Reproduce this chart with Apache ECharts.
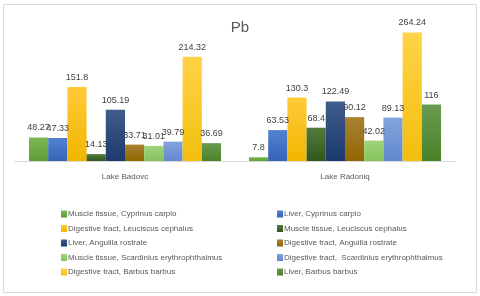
<!DOCTYPE html>
<html><head><meta charset="utf-8">
<script src="https://cdn.jsdelivr.net/npm/echarts@6/dist/echarts.min.js"></script>
<style>html,body{margin:0;padding:0;background:#fff}#c{width:480px;height:296px}</style>
</head><body><div id="c"></div>
<script>
const categories = ['Lake Badovc', 'Lake Radoniq'];
const seriesNames = [
  'Muscle tissue, Cyprinus carpio',
  'Liver, Cyprinus carpio',
  'Digestive tract, Leuciscus cephalus',
  'Muscle tissue, Leuciscus cephalus',
  'Liver, Anguilla rostrate',
  'Digestive tract, Anguilla rostrate',
  'Muscle tissue, Scardinius erythrophthalmus',
  'Digestive tract,  Scardinius erythrophthalmus',
  'Digestive tract, Barbus barbus',
  'Liver, Barbus barbus'
];
const muscleCyprinus = [48.27, 7.8];
const liverCyprinus = [47.33, 63.53];
const digestiveLeuciscus = [151.8, 130.3];
const muscleLeuciscus = [14.13, 68.4];
const liverAnguilla = [105.19, 122.49];
const digestiveAnguilla = [33.71, 90.12];
const muscleScardinius = [31.01, 42.02];
const digestiveScardinius = [39.79, 89.13];
const digestiveBarbus = [214.32, 264.24];
const liverBarbus = [36.69, 116];
const seriesValues = [muscleCyprinus, liverCyprinus, digestiveLeuciscus, muscleLeuciscus,
  liverAnguilla, digestiveAnguilla, muscleScardinius, digestiveScardinius, digestiveBarbus, liverBarbus];

const palette = [
  ['#7DB857', '#5E9E35', '#70AD47'],
  ['#5282CF', '#3564BA', '#4472C4'],
  ['#FFCA3A', '#F2B600', '#FFC000'],
  ['#567B3F', '#30571B', '#43682B'],
  ['#405C8C', '#1D3A6E', '#264478'],
  ['#AA8233', '#906700', '#9E7000'],
  ['#9FD47C', '#85C25C', '#8FCC68'],
  ['#82A4DD', '#6288CE', '#6F94D6'],
  ['#FFD347', '#F2BF0E', '#FFC818'],
  ['#6A9C50', '#488228', '#548E35']
];
const font = "'Liberation Sans',Arial,sans-serif";

const series = seriesNames.map((name, i) => ({
  name: name,
  type: 'bar',
  data: seriesValues[i],
  barGap: '0%',
  barCategoryGap: '12.7%',
  itemStyle: {
    color: {type: 'linear', x: 0, y: 0, x2: 0, y2: 1, colorStops: [
      {offset: 0, color: palette[i][0]}, {offset: 1, color: palette[i][1]}]}
  },
  label: {show: true, position: 'top', distance: 5, color: '#404040', fontSize: 9, fontFamily: font}
}));

const chart = echarts.init(document.getElementById('c'), null, {renderer: 'canvas'});
const legendBase = {
  orient: 'vertical', itemWidth: 6, itemHeight: 7, itemGap: 6.5, icon: 'rect', padding: 0,
  textStyle: {color: '#595959', fontSize: 8, fontFamily: font, padding: [0, 0, 0, -4]},
  selectedMode: false
};
chart.setOption({
  animation: false,
  color: palette.map(p => p[2]),
  title: {text: 'Pb', left: 'center', top: 15, textStyle: {color: '#595959', fontSize: 15, fontWeight: 'normal', fontFamily: font}},
  graphic: [{type: 'rect', shape: {x: 3.5, y: 4.5, width: 473, height: 288}, style: {fill: 'none', stroke: '#d9d9d9', lineWidth: 1}, silent: true, z: -1}],
  grid: {left: 15, right: 25, top: 15, bottom: 135},
  xAxis: {type: 'category', data: categories,
    axisLine: {lineStyle: {color: '#d9d9d9'}}, axisTick: {show: false},
    axisLabel: {color: '#595959', fontSize: 8, fontFamily: font, margin: 12}},
  yAxis: {type: 'value', min: 0, max: 300, show: false, splitLine: {show: false}},
  legend: [
    Object.assign({}, legendBase, {left: 61, top: 210, data: seriesNames.filter((_, i) => i % 2 === 0)}),
    Object.assign({}, legendBase, {left: 277, top: 210, data: seriesNames.filter((_, i) => i % 2 === 1)})
  ],
  series: series
});
</script></body></html>
